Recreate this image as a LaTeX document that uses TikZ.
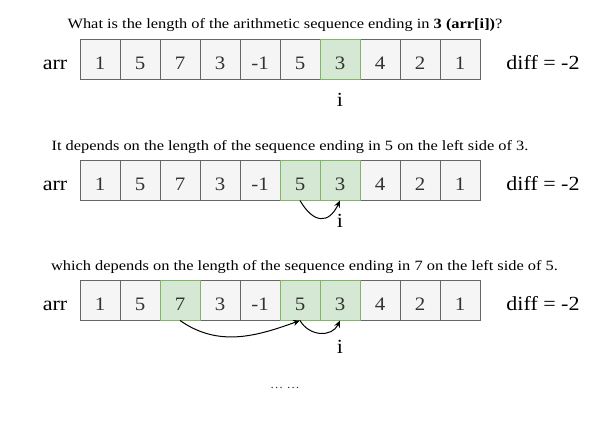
\documentclass[tikz,border=0pt]{standalone}
\usepackage{fontspec}
\setmainfont[FakeStretch=1.1]{Liberation Serif}
\newfontfamily\titlefont[FakeStretch=1.155]{Liberation Serif}
\usetikzlibrary{arrows.meta}
\definecolor{cellfill}{HTML}{F5F5F5}
\definecolor{celldraw}{HTML}{666666}
\definecolor{gfill}{HTML}{D5E8D4}
\definecolor{gdraw}{HTML}{82B366}
\definecolor{celltext}{HTML}{333333}
\begin{document}
\begin{tikzpicture}[x=1pt,y=1pt,
  cell/.style={draw=celldraw,fill=cellfill,line width=1pt,minimum width=40pt,minimum height=40pt,inner sep=0pt,text=celltext,text height=20pt,text depth=0pt,font=\fontsize{19}{19}\selectfont},
  gcell/.style={cell,draw=gdraw,fill=gfill},
  title/.style={font=\titlefont\fontsize{14.2}{16}\selectfont,inner sep=0pt,anchor=base},
  lbl/.style={font=\fontsize{20}{22}\selectfont,inner sep=0pt,anchor=base},
  idx/.style={font=\fontsize{20}{22}\selectfont,inner sep=0pt,anchor=base},
  link/.style={line width=1pt,-{Stealth[length=7pt,width=6pt]}}]
\useasboundingbox (0,0) rectangle (602,-441);
% row 1
\node[title] (t1) at (285,-29) {What is the length of the arithmetic sequence ending in \textbf{3 (arr[i])}?};
\node[lbl] (arr1) at (55,-70) {arr};
\foreach \k/\v/\s in {1/1/cell,2/5/cell,3/7/cell,4/3/cell,5/-1/cell,6/5/cell,8/4/cell,9/2/cell,10/1/cell,7/3/gcell}
  \node[\s] (a\k) at ({60+40*\k},-60) {\v};
\node[lbl] (d1) at (543,-70) {diff = -2};
\node[idx] (i1) at (340,-107) {i};
% row 2
\node[title] (t2) at (290,-150) {It depends on the length of the sequence ending in 5 on the left side of 3.};
\node[lbl] (arr2) at (55,-190) {arr};
\foreach \k/\v/\s in {1/1/cell,2/5/cell,3/7/cell,4/3/cell,5/-1/cell,8/4/cell,9/2/cell,10/1/cell,6/5/gcell,7/3/gcell}
  \node[\s] (b\k) at ({60+40*\k},-180) {\v};
\node[lbl] (d2) at (543,-190) {diff = -2};
\node[idx] (i2) at (340,-227) {i};
\draw[link] (b6.south) to[out=-60,in=-115,looseness=1.7] (b7.south);
% row 3
\node[title] (t3) at (304.5,-270) {which depends on the length of the sequence ending in 7 on the left side of 5.};
\node[lbl] (arr3) at (55,-310) {arr};
\foreach \k/\v/\s in {1/1/cell,2/5/cell,4/3/cell,5/-1/cell,8/4/cell,9/2/cell,10/1/cell,3/7/gcell,6/5/gcell,7/3/gcell}
  \node[\s] (c\k) at ({60+40*\k},-300) {\v};
\node[lbl] (d3) at (543,-310) {diff = -2};
\node[idx] (i3) at (340,-353) {i};
\draw[link] (c3.south) to[out=-35,in=-160] (c6.south);
\draw[link] (c6.south) to[out=-60,in=-115,looseness=1.2] (c7.south);
% dots
\node[font=\fontsize{12}{12}\selectfont,text=celltext] (dots) at (285,-388) {… …};
\end{tikzpicture}
\end{document}
